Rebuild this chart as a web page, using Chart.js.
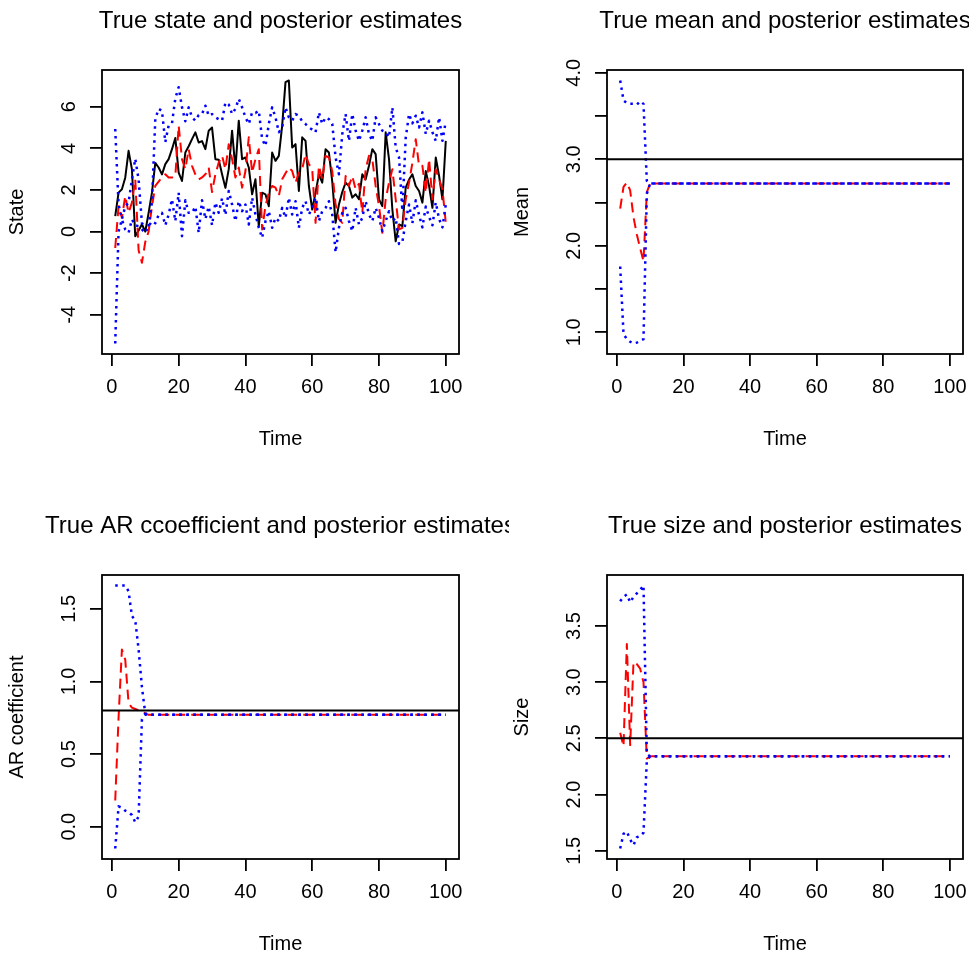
<!DOCTYPE html>
<html><head><meta charset="utf-8">
<script src="https://cdn.jsdelivr.net/npm/chart.js@4/dist/chart.umd.min.js"></script>
<style>
html,body{margin:0;padding:0;background:#fff;}
#wrap{position:relative;width:969px;height:955px;overflow:hidden;background:#fff;}
canvas{position:absolute;}
</style></head><body>
<div id="wrap">
<canvas id="c1" width="509" height="477" style="left:0;top:0"></canvas>
<canvas id="c2" width="460" height="477" style="left:509px;top:0"></canvas>
<canvas id="c3" width="509" height="478" style="left:0;top:477px"></canvas>
<canvas id="c4" width="460" height="478" style="left:509px;top:477px"></canvas>
</div>
<script>
const time = [1,2,3,4,5,6,7,8,9,10,11,12,13,14,15,16,17,18,19,20,21,22,23,24,25,26,27,28,29,30,
31,32,33,34,35,36,37,38,39,40,41,42,43,44,45,46,47,48,49,50,51,52,53,54,55,56,57,58,59,60,
61,62,63,64,65,66,67,68,69,70,71,72,73,74,75,76,77,78,79,80,81,82,83,84,85,86,87,88,89,90,
91,92,93,94,95,96,97,98,99,100];

const xTicks = [0,20,40,60,80,100];
const xTickLabels = ["0","20","40","60","80","100"];

// Panel 1: state
const stateTrue = [0.74,1.87,2.03,2.59,3.88,3.0,-0.22,0.05,0.35,0.0,
0.9,1.87,3.3,3.08,2.75,3.24,3.48,3.96,4.5,2.83,
2.43,3.8,4.1,4.44,4.77,4.28,4.35,3.96,4.85,5.0,
3.48,3.45,2.75,2.1,3.0,4.85,3.0,5.33,3.48,3.56,
3.08,1.79,2.51,0.26,1.87,1.79,1.22,3.8,3.4,3.64,
5.09,7.18,7.26,4.04,4.2,1.95,4.53,4.36,2.19,1.06,
1.87,2.75,2.35,3.96,3.8,2.4,0.42,1.3,1.9,2.35,
2.19,1.63,1.79,1.55,2.75,2.51,3.16,3.96,3.72,1.55,
1.22,4.77,3.48,1.06,-0.47,0.34,0.26,2.11,2.5,2.75,
2.19,1.95,1.39,2.91,2.19,1.14,3.56,2.67,1.55,4.36];
const stateEst = [-0.79,1.22,0.66,1.71,0.9,1.39,2.51,-0.9,-1.5,-0.5,
0.0,1.2,2.2,2.4,2.6,2.75,2.6,2.6,2.67,5.09,
3.48,3.0,3.96,3.16,2.75,2.5,2.6,2.75,3.08,1.9,
2.75,3.32,3.64,3.0,4.2,3.48,2.6,3.08,2.11,2.91,
4.53,2.83,3.48,3.96,0.1,1.22,1.87,2.19,2.11,1.71,
2.51,2.8,3.08,2.91,2.35,2.83,3.0,3.72,3.24,3.0,
0.42,3.16,2.51,3.64,3.56,2.9,1.3,0.6,0.42,2.67,
2.19,2.67,2.03,2.3,0.9,3.0,3.64,3.48,2.19,1.22,
-0.06,1.55,2.35,3.0,1.55,0.1,0.18,1.55,2.35,3.3,
4.44,3.16,3.16,1.87,3.48,1.55,3.0,2.51,2.03,0.42];
const stateUpper = [4.93,1.3,0.6,1.2,1.4,2.5,3.5,2.5,0.4,0.3,
0.3,1.4,5.4,5.9,5.8,4.3,5.1,5.2,6.4,6.94,
5.97,5.3,5.97,5.5,5.33,5.6,5.65,6.05,5.57,5.65,
5.49,5.4,5.33,6.2,6.1,5.65,5.9,6.38,5.97,5.49,
5.17,5.73,5.7,5.81,4.44,4.12,5.17,5.97,5.49,4.77,
5.0,5.97,5.49,5.33,5.65,5.57,5.3,5.17,5.0,4.9,
4.77,5.73,5.17,5.49,5.4,5.17,3.56,2.75,4.69,5.65,
4.36,5.65,4.85,4.36,4.85,5.49,4.69,4.36,5.49,5.17,
4.85,4.77,4.53,5.97,4.04,3.56,1.0,4.5,5.65,5.2,
5.57,5.0,5.73,4.69,5.33,4.77,4.36,5.49,4.36,5.3];
const stateLower = [-5.38,0.0,0.58,0.1,-0.06,0.58,0.3,0.26,0.1,-0.06,
0.26,0.5,0.4,0.8,0.9,0.3,0.82,1.55,0.5,1.87,
-0.22,1.5,0.9,0.9,1.2,-0.06,1.5,0.6,1.2,0.3,
1.4,0.9,1.6,0.8,1.95,1.3,0.5,1.46,0.98,1.3,
0.34,1.63,0.82,0.18,-0.3,0.5,0.98,0.18,0.66,0.5,
1.14,0.66,1.63,0.82,1.46,0.18,1.14,1.46,0.82,1.14,
1.63,0.5,0.98,1.14,1.46,0.82,-1.0,0.18,0.9,1.14,
0.5,0.02,1.14,0.34,0.66,1.46,0.82,0.5,1.14,0.66,
0.02,0.5,0.98,0.5,0.66,-0.6,-0.5,0.5,1.3,0.4,
1.5,0.8,0.2,1.2,0.7,0.3,1.4,0.6,0.2,1.3];
const stateYTicks = [-4,-2,0,2,4,6];
const stateYTickLabels = ["-4","-2","0","2","4","6"];

// Panel 2: mean
const meanTrue = 3.0;
const meanEst = [2.43,2.68,2.73,2.64,2.33,2.13,1.97,1.82,2.62,2.72,
2.72,2.72,2.72,2.72,2.72,2.72,2.72,2.72,2.72,2.72,
2.72,2.72,2.72,2.72,2.72,2.72,2.72,2.72,2.72,2.72,
2.72,2.72,2.72,2.72,2.72,2.72,2.72,2.72,2.72,2.72,
2.72,2.72,2.72,2.72,2.72,2.72,2.72,2.72,2.72,2.72,
2.72,2.72,2.72,2.72,2.72,2.72,2.72,2.72,2.72,2.72,
2.72,2.72,2.72,2.72,2.72,2.72,2.72,2.72,2.72,2.72,
2.72,2.72,2.72,2.72,2.72,2.72,2.72,2.72,2.72,2.72,
2.72,2.72,2.72,2.72,2.72,2.72,2.72,2.72,2.72,2.72,
2.72,2.72,2.72,2.72,2.72,2.72,2.72,2.72,2.72,2.72];
const meanLower = [1.76,0.98,0.92,0.89,0.87,0.88,0.9,0.92,2.6,2.72,
2.72,2.72,2.72,2.72,2.72,2.72,2.72,2.72,2.72,2.72,
2.72,2.72,2.72,2.72,2.72,2.72,2.72,2.72,2.72,2.72,
2.72,2.72,2.72,2.72,2.72,2.72,2.72,2.72,2.72,2.72,
2.72,2.72,2.72,2.72,2.72,2.72,2.72,2.72,2.72,2.72,
2.72,2.72,2.72,2.72,2.72,2.72,2.72,2.72,2.72,2.72,
2.72,2.72,2.72,2.72,2.72,2.72,2.72,2.72,2.72,2.72,
2.72,2.72,2.72,2.72,2.72,2.72,2.72,2.72,2.72,2.72,
2.72,2.72,2.72,2.72,2.72,2.72,2.72,2.72,2.72,2.72,
2.72,2.72,2.72,2.72,2.72,2.72,2.72,2.72,2.72,2.72];
const meanUpper = [3.91,3.68,3.65,3.64,3.64,3.63,3.67,3.64,2.75,2.72,
2.72,2.72,2.72,2.72,2.72,2.72,2.72,2.72,2.72,2.72,
2.72,2.72,2.72,2.72,2.72,2.72,2.72,2.72,2.72,2.72,
2.72,2.72,2.72,2.72,2.72,2.72,2.72,2.72,2.72,2.72,
2.72,2.72,2.72,2.72,2.72,2.72,2.72,2.72,2.72,2.72,
2.72,2.72,2.72,2.72,2.72,2.72,2.72,2.72,2.72,2.72,
2.72,2.72,2.72,2.72,2.72,2.72,2.72,2.72,2.72,2.72,
2.72,2.72,2.72,2.72,2.72,2.72,2.72,2.72,2.72,2.72,
2.72,2.72,2.72,2.72,2.72,2.72,2.72,2.72,2.72,2.72,
2.72,2.72,2.72,2.72,2.72,2.72,2.72,2.72,2.72,2.72];
const meanYTicks = [1.0,1.5,2.0,2.5,3.0,3.5,4.0];
const meanYTickLabels = ["1.0","","2.0","","3.0","","4.0"];

// Panel 3: AR coefficient
const arTrue = 0.8;
const arEst = [0.18,0.75,1.22,1.15,0.85,0.82,0.81,0.8,0.79,0.78,
0.77,0.77,0.77,0.77,0.77,0.77,0.77,0.77,0.77,0.77,
0.77,0.77,0.77,0.77,0.77,0.77,0.77,0.77,0.77,0.77,
0.77,0.77,0.77,0.77,0.77,0.77,0.77,0.77,0.77,0.77,
0.77,0.77,0.77,0.77,0.77,0.77,0.77,0.77,0.77,0.77,
0.77,0.77,0.77,0.77,0.77,0.77,0.77,0.77,0.77,0.77,
0.77,0.77,0.77,0.77,0.77,0.77,0.77,0.77,0.77,0.77,
0.77,0.77,0.77,0.77,0.77,0.77,0.77,0.77,0.77,0.77,
0.77,0.77,0.77,0.77,0.77,0.77,0.77,0.77,0.77,0.77,
0.77,0.77,0.77,0.77,0.77,0.77,0.77,0.77,0.77,0.77];
const arLower = [-0.15,0.14,0.13,0.11,0.1,0.08,0.03,0.07,0.74,0.77,
0.77,0.77,0.77,0.77,0.77,0.77,0.77,0.77,0.77,0.77,
0.77,0.77,0.77,0.77,0.77,0.77,0.77,0.77,0.77,0.77,
0.77,0.77,0.77,0.77,0.77,0.77,0.77,0.77,0.77,0.77,
0.77,0.77,0.77,0.77,0.77,0.77,0.77,0.77,0.77,0.77,
0.77,0.77,0.77,0.77,0.77,0.77,0.77,0.77,0.77,0.77,
0.77,0.77,0.77,0.77,0.77,0.77,0.77,0.77,0.77,0.77,
0.77,0.77,0.77,0.77,0.77,0.77,0.77,0.77,0.77,0.77,
0.77,0.77,0.77,0.77,0.77,0.77,0.77,0.77,0.77,0.77,
0.77,0.77,0.77,0.77,0.77,0.77,0.77,0.77,0.77,0.77];
const arUpper = [1.66,1.66,1.66,1.66,1.62,1.45,1.42,1.22,0.96,0.78,
0.77,0.77,0.77,0.77,0.77,0.77,0.77,0.77,0.77,0.77,
0.77,0.77,0.77,0.77,0.77,0.77,0.77,0.77,0.77,0.77,
0.77,0.77,0.77,0.77,0.77,0.77,0.77,0.77,0.77,0.77,
0.77,0.77,0.77,0.77,0.77,0.77,0.77,0.77,0.77,0.77,
0.77,0.77,0.77,0.77,0.77,0.77,0.77,0.77,0.77,0.77,
0.77,0.77,0.77,0.77,0.77,0.77,0.77,0.77,0.77,0.77,
0.77,0.77,0.77,0.77,0.77,0.77,0.77,0.77,0.77,0.77,
0.77,0.77,0.77,0.77,0.77,0.77,0.77,0.77,0.77,0.77,
0.77,0.77,0.77,0.77,0.77,0.77,0.77,0.77,0.77,0.77];
const arYTicks = [0.0,0.5,1.0,1.5];
const arYTickLabels = ["0.0","0.5","1.0","1.5"];

// Panel 4: size
const sizeTrue = 2.5;
const sizeEst = [2.55,2.43,3.34,2.44,3.18,3.16,3.12,3.0,2.32,2.34,
2.34,2.34,2.34,2.34,2.34,2.34,2.34,2.34,2.34,2.34,
2.34,2.34,2.34,2.34,2.34,2.34,2.34,2.34,2.34,2.34,
2.34,2.34,2.34,2.34,2.34,2.34,2.34,2.34,2.34,2.34,
2.34,2.34,2.34,2.34,2.34,2.34,2.34,2.34,2.34,2.34,
2.34,2.34,2.34,2.34,2.34,2.34,2.34,2.34,2.34,2.34,
2.34,2.34,2.34,2.34,2.34,2.34,2.34,2.34,2.34,2.34,
2.34,2.34,2.34,2.34,2.34,2.34,2.34,2.34,2.34,2.34,
2.34,2.34,2.34,2.34,2.34,2.34,2.34,2.34,2.34,2.34,
2.34,2.34,2.34,2.34,2.34,2.34,2.34,2.34,2.34,2.34];
const sizeLower = [1.52,1.65,1.67,1.6,1.55,1.62,1.63,1.66,2.3,2.34,
2.34,2.34,2.34,2.34,2.34,2.34,2.34,2.34,2.34,2.34,
2.34,2.34,2.34,2.34,2.34,2.34,2.34,2.34,2.34,2.34,
2.34,2.34,2.34,2.34,2.34,2.34,2.34,2.34,2.34,2.34,
2.34,2.34,2.34,2.34,2.34,2.34,2.34,2.34,2.34,2.34,
2.34,2.34,2.34,2.34,2.34,2.34,2.34,2.34,2.34,2.34,
2.34,2.34,2.34,2.34,2.34,2.34,2.34,2.34,2.34,2.34,
2.34,2.34,2.34,2.34,2.34,2.34,2.34,2.34,2.34,2.34,
2.34,2.34,2.34,2.34,2.34,2.34,2.34,2.34,2.34,2.34,
2.34,2.34,2.34,2.34,2.34,2.34,2.34,2.34,2.34,2.34];
const sizeUpper = [3.72,3.76,3.78,3.71,3.76,3.79,3.82,3.86,2.36,2.34,
2.34,2.34,2.34,2.34,2.34,2.34,2.34,2.34,2.34,2.34,
2.34,2.34,2.34,2.34,2.34,2.34,2.34,2.34,2.34,2.34,
2.34,2.34,2.34,2.34,2.34,2.34,2.34,2.34,2.34,2.34,
2.34,2.34,2.34,2.34,2.34,2.34,2.34,2.34,2.34,2.34,
2.34,2.34,2.34,2.34,2.34,2.34,2.34,2.34,2.34,2.34,
2.34,2.34,2.34,2.34,2.34,2.34,2.34,2.34,2.34,2.34,
2.34,2.34,2.34,2.34,2.34,2.34,2.34,2.34,2.34,2.34,
2.34,2.34,2.34,2.34,2.34,2.34,2.34,2.34,2.34,2.34,
2.34,2.34,2.34,2.34,2.34,2.34,2.34,2.34,2.34,2.34];
const sizeYTicks = [1.5,2.0,2.5,3.0,3.5];
const sizeYTickLabels = ["1.5","2.0","2.5","3.0","3.5"];

const FONT = '"Liberation Sans", Arial, Helvetica, sans-serif';

function rRange(arrs) {
  let lo = Infinity, hi = -Infinity;
  arrs.forEach(a => a.forEach(v => { if (v < lo) lo = v; if (v > hi) hi = v; }));
  const pad = (hi - lo) * 0.04;
  return [lo - pad, hi + pad];
}

const rPlot = {
  id: 'rplot',
  afterDatasetsDraw(chart, args, o) {
    if (o.trueValue === undefined || o.trueValue === null) return;
    const {ctx, chartArea: a, scales: {y}} = chart;
    const py = y.getPixelForValue(o.trueValue);
    ctx.save();
    ctx.strokeStyle = '#000'; ctx.lineWidth = 2;
    ctx.beginPath(); ctx.moveTo(a.left, py); ctx.lineTo(a.right, py); ctx.stroke();
    ctx.restore();
  },
  afterDraw(chart, args, o) {
    const {ctx, chartArea: a, scales: {x, y}} = chart;
    ctx.save();
    ctx.strokeStyle = '#000'; ctx.lineWidth = 1.8;
    ctx.strokeRect(a.left, a.top, a.right - a.left, a.bottom - a.top);
    ctx.fillStyle = '#000';
    ctx.font = '20px ' + FONT;
    ctx.textAlign = 'center'; ctx.textBaseline = 'middle';
    o.xTicks.forEach((v, i) => ctx.fillText(o.xTickLabels[i], x.getPixelForValue(v), a.bottom + 33));
    o.yTicks.forEach((v, i) => {
      const lab = o.yTickLabels[i];
      if (!lab) return;
      ctx.save();
      ctx.translate(a.left - 33, y.getPixelForValue(v));
      ctx.rotate(-Math.PI / 2);
      ctx.fillText(lab, 0, 0);
      ctx.restore();
    });
    ctx.fillText(o.xlab, (a.left + a.right) / 2, a.bottom + 85);
    ctx.save();
    ctx.translate(a.left - 85, (a.top + a.bottom) / 2);
    ctx.rotate(-Math.PI / 2);
    ctx.fillText(o.ylab, 0, 0);
    ctx.restore();
    ctx.font = '24px ' + FONT;
    ctx.fillText(o.title, (a.left + a.right) / 2, a.top - 49);
    ctx.restore();
  }
};

function line(arr, color, dash, width) {
  return {
    data: time.map((t, i) => ({x: t, y: arr[i]})),
    borderColor: color, borderWidth: width, borderDash: dash,
    borderCapStyle: 'butt', borderJoinStyle: 'round',
    pointRadius: 0, fill: false, tension: 0
  };
}

function panel(id, p) {
  const cv = document.getElementById(id);
  const W = cv.width, H = cv.height;
  const [ymin, ymax] = rRange(p.series);
  const xpad = (time[time.length - 1] - time[0]) * 0.04;
  const tickGrid = {display: true, drawOnChartArea: false, drawTicks: true, tickLength: 12,
                    tickColor: '#000', tickWidth: 1.8, color: '#000', lineWidth: 1.8};
  new Chart(cv, {
    type: 'line',
    data: {datasets: p.datasets},
    options: {
      responsive: false, animation: false, devicePixelRatio: 1, events: [],
      layout: {padding: {left: p.left, right: W - p.right, top: p.top, bottom: H - p.bottom}},
      plugins: {legend: {display: false}, tooltip: {enabled: false}, title: {display: false},
        rplot: {title: p.title, xlab: 'Time', ylab: p.ylab, trueValue: p.trueValue,
                xTicks: xTicks, xTickLabels: xTickLabels, yTicks: p.yTicks, yTickLabels: p.yTickLabels}},
      scales: {
        x: {type: 'linear', min: time[0] - xpad, max: time[time.length - 1] + xpad,
            grid: tickGrid, border: {display: false}, ticks: {display: false},
            afterBuildTicks: s => { s.ticks = xTicks.map(v => ({value: v})); },
            afterFit: s => { s.height = 0; }},
        y: {type: 'linear', min: ymin, max: ymax,
            grid: tickGrid, border: {display: false}, ticks: {display: false},
            afterBuildTicks: s => { s.ticks = p.yTicks.map(v => ({value: v})); },
            afterFit: s => { s.width = 0; }}
      }
    },
    plugins: [rPlot]
  });
}

const RED = '#FF0000', BLUE = '#0000FF', BLACK = '#000000';
const DASH = [10, 6], DOT = [2.5, 4.5];

panel('c1', {
  title: 'True state and posterior estimates', ylab: 'State',
  left: 102, right: 459, top: 70, bottom: 354,
  series: [stateTrue, stateEst, stateUpper, stateLower],
  yTicks: stateYTicks, yTickLabels: stateYTickLabels,
  datasets: [line(stateUpper, BLUE, DOT, 2.5), line(stateLower, BLUE, DOT, 2.5),
             line(stateEst, RED, DASH, 2), line(stateTrue, BLACK, [], 2)]
});
panel('c2', {
  title: 'True mean and posterior estimates', ylab: 'Mean', trueValue: meanTrue,
  left: 98, right: 454, top: 70, bottom: 354,
  series: [meanEst, meanUpper, meanLower],
  yTicks: meanYTicks, yTickLabels: meanYTickLabels,
  datasets: [line(meanUpper, BLUE, DOT, 2.5), line(meanLower, BLUE, DOT, 2.5),
             line(meanEst, RED, DASH, 2)]
});
panel('c3', {
  title: 'True AR ccoefficient and posterior estimates', ylab: 'AR coefficient', trueValue: arTrue,
  left: 102, right: 459, top: 98, bottom: 382,
  series: [arEst, arUpper, arLower],
  yTicks: arYTicks, yTickLabels: arYTickLabels,
  datasets: [line(arUpper, BLUE, DOT, 2.5), line(arLower, BLUE, DOT, 2.5),
             line(arEst, RED, DASH, 2)]
});
panel('c4', {
  title: 'True size and posterior estimates', ylab: 'Size', trueValue: sizeTrue,
  left: 98, right: 454, top: 98, bottom: 382,
  series: [sizeEst, sizeUpper, sizeLower],
  yTicks: sizeYTicks, yTickLabels: sizeYTickLabels,
  datasets: [line(sizeUpper, BLUE, DOT, 2.5), line(sizeLower, BLUE, DOT, 2.5),
             line(sizeEst, RED, DASH, 2)]
});
</script>
</body></html>
